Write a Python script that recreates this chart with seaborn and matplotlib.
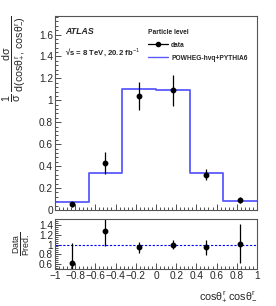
import numpy as np
import pandas as pd
import matplotlib
matplotlib.use('Agg')
import matplotlib.pyplot as plt
import seaborn as sns
from matplotlib.ticker import MultipleLocator, AutoMinorLocator, FuncFormatter
from matplotlib.lines import Line2D

# Data
bin_edges = [-1.0, -2/3, -1/3, 0.0, 1/3, 2/3, 1.0]
bin_centers = [-5/6, -0.5, -1/6, 1/6, 0.5, 5/6]
pred_vals = [0.076, 0.335, 1.103, 1.094, 0.335, 0.085]
data_vals = [0.05, 0.43, 1.04, 1.09, 0.32, 0.09]
data_err = [0.02, 0.10, 0.13, 0.14, 0.05, 0.025]
ratio_vals = [0.62, 1.28, 0.94, 1.00, 0.94, 1.02]
ratio_err = [0.41, 0.31, 0.12, 0.10, 0.16, 0.39]

df = pd.DataFrame({'x': bin_centers, 'pred': pred_vals})

sns.set_style('ticks')
plt.rcParams['font.family'] = ['Liberation Sans', 'DejaVu Sans']
plt.rcParams['mathtext.fontset'] = 'custom'
plt.rcParams['mathtext.rm'] = 'Liberation Sans'
plt.rcParams['mathtext.it'] = 'Liberation Sans'
plt.rcParams['mathtext.bf'] = 'Liberation Sans:bold'
plt.rcParams['axes.unicode_minus'] = True

fig = plt.figure(figsize=(2.76, 3.06), dpi=100)
ax = fig.add_axes([0.199, 0.314, 0.732, 0.634])
rax = fig.add_axes([0.199, 0.121, 0.732, 0.163])

pred_color = '#5a5aff'

# prediction histogram
sns.histplot(data=df, x='x', weights='pred', bins=bin_edges, element='step',
             fill=False, color=pred_color, linewidth=1.3, ax=ax)
ax.errorbar(bin_centers, data_vals, yerr=data_err, fmt='o', color='black',
            ms=3.2, elinewidth=0.9, capsize=0)

# ratio panel
rax.axhline(1.0, color='blue', ls=(0, (2, 1.5)), lw=0.8)
rax.errorbar(bin_centers, ratio_vals, yerr=ratio_err, fmt='o', color='black',
             ms=3.2, elinewidth=0.9, capsize=0)

fmt = FuncFormatter(lambda v, p: ('%g' % round(v, 2)).replace('-', '\u2212'))
for a in (ax, rax):
    a.set_xlim(-1, 1)
    a.xaxis.set_major_locator(MultipleLocator(0.2))
    a.xaxis.set_minor_locator(AutoMinorLocator(5))
    a.yaxis.set_minor_locator(AutoMinorLocator(5))
    a.tick_params(which='both', direction='in', labelsize=7.3, pad=1.5,
                  color='#333333', width=0.6)
    a.tick_params(which='major', length=4.5)
    a.tick_params(which='minor', length=2.2)
    a.yaxis.set_major_formatter(fmt)
    a.xaxis.set_major_formatter(fmt)
    for s in a.spines.values():
        s.set_visible(True)
        s.set_color('#555555')
        s.set_linewidth(0.8)

ax.set_ylim(0, 1.77)
ax.yaxis.set_major_locator(MultipleLocator(0.2))
ax.tick_params(labelbottom=False)
ax.set_xlabel('')
ax.set_ylabel(r'$\frac{1}{\sigma}\,\frac{\mathrm{d}\sigma}{\mathrm{d(cos}\theta^{r}_{+},\,\mathrm{cos}\theta^{r}_{-})}$',
              fontsize=11, loc='top')
ax.yaxis.set_label_coords(-0.14, 1.0)

rax.set_ylim(0.5, 1.52)
rax.yaxis.set_major_locator(MultipleLocator(0.2))
rax.set_ylabel(r'$\frac{\mathrm{Data}}{\mathrm{Pred.}}$', fontsize=9)
rax.yaxis.set_label_coords(-0.115, 0.5)
rax.set_xlabel(r'$\mathrm{cos}\theta^{r}_{+}\,\mathrm{cos}\theta^{r}_{-}$', fontsize=7.8, loc='right')
rax.xaxis.set_label_coords(1.0, -0.42)

# annotations
ax.text(0.05, 0.918, 'ATLAS', transform=ax.transAxes, fontsize=6.3,
        fontweight='bold', fontstyle='italic', va='center')
ax.text(0.05, 0.814, '\u221as = 8 TeV, 20.2 fb$^{-1}$', transform=ax.transAxes,
        fontsize=5.6, fontweight='bold', va='center')

handles = [Line2D([], [], color='black', marker='o', ms=3, lw=0.9),
           Line2D([], [], color=pred_color, lw=1.0)]
leg = ax.legend(handles, ['data', 'POWHEG-hvq+PYTHIA6'], title='Particle level',
                loc='upper left', bbox_to_anchor=(0.43, 0.965), frameon=False,
                fontsize=4.8, title_fontsize=4.8, handlelength=3.0,
                handletextpad=0.5, labelspacing=0.9, alignment='left')
for t in leg.get_texts():
    t.set_fontweight('bold')
leg.get_title().set_fontweight('bold')

fig.savefig('out.png', dpi=100)
